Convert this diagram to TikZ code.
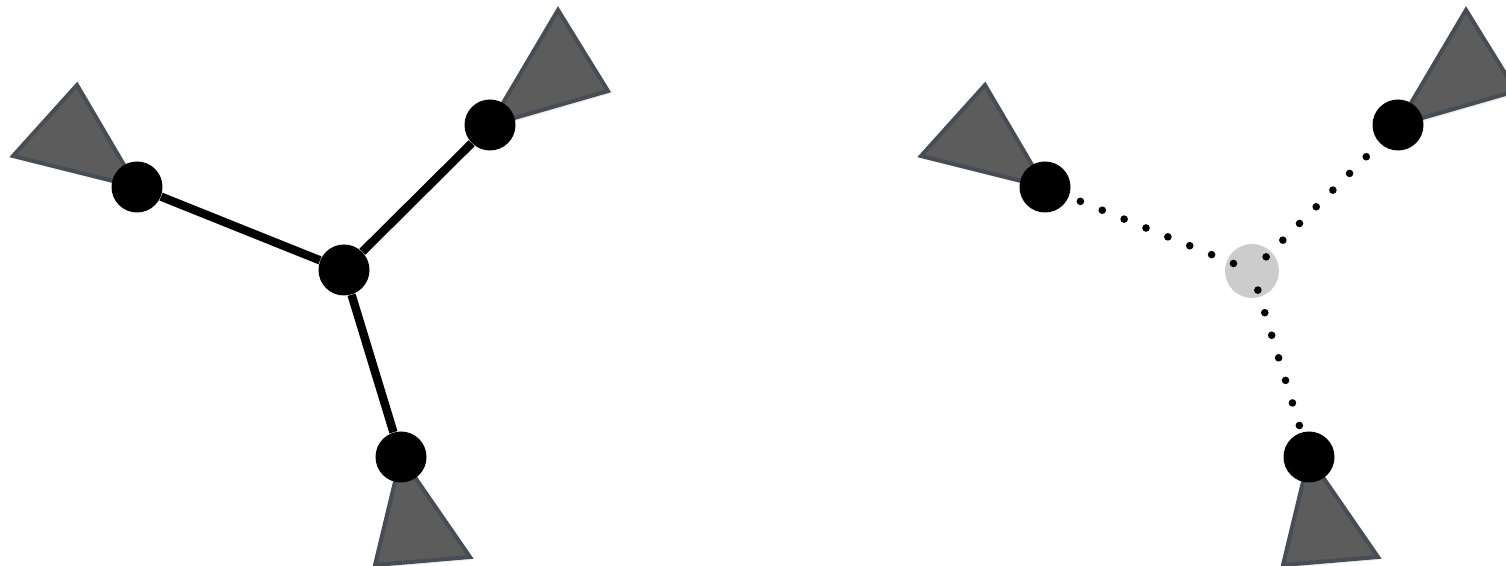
\documentclass[tikz,border=0pt]{standalone}
\usetikzlibrary{shadows}
\definecolor{hornfill}{HTML}{5C5C5C}
\definecolor{hornedge}{HTML}{474D55}
\definecolor{hubgray}{HTML}{CCCCCC}
\tikzset{
	ball/.style={circle,fill=black,minimum size=25.5pt,inner sep=0pt},
	hub/.style={circle,fill=hubgray,minimum size=27pt,inner sep=0pt},
	horn/.style={fill=hornfill,draw=hornedge,line width=2pt,
		drop shadow={opacity=0.15,shadow xshift=1pt,shadow yshift=-1.5pt}},
	bond/.style={line width=4.2pt},
	dots/.style={line width=3.8pt,line cap=round,dash pattern=on 0pt off 11.8pt,dash phase=1.8pt}
}
\begin{document}
\begin{tikzpicture}[x=0.5pt,y=-0.5pt]
	\clip (0,0) rectangle (1506,566);
	% same three arms on both sides, right one shifted
	\foreach \s/\k in {0/a,908/b} {
		\filldraw[horn] (\s+77,85) -- (\s+13,156) -- (\s+137,187) -- cycle;
		\filldraw[horn] (\s+558,10) -- (\s+608,91) -- (\s+490,125) -- cycle;
		\filldraw[horn] (\s+375,565) -- (\s+470,557) -- (\s+401,457) -- cycle;
		\node[ball] (l\k) at (\s+137,187) {};
		\node[ball] (r\k) at (\s+490,125) {};
		\node[ball] (d\k) at (\s+401,457) {};
	}
	% left: joined
	\node[ball] (ca) at (344,270) {};
	\draw[bond] (ca) -- (la);
	\draw[bond] (ca) -- (ra);
	\draw[bond] (ca) -- (da);
	% right: open
	\node[hub] (cb) at (1252,271) {};
	\foreach \n in {lb,rb,db} {
		\draw[dots] (cb.center) -- (\n);
	}
\end{tikzpicture}
\end{document}
